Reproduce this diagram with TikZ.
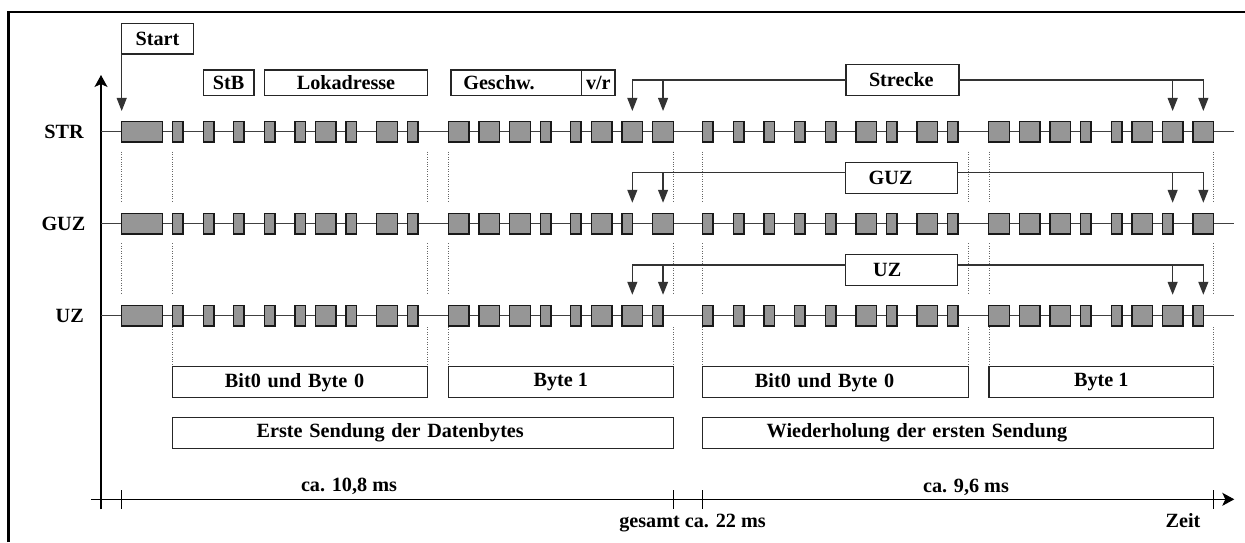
\documentclass[tikz,border=0pt]{standalone}
\usepackage{fontspec}
\setmainfont{Liberation Serif}
\usepackage{tikz}
\usetikzlibrary{arrows.meta}

\definecolor{pulsgrau}{RGB}{150,150,150}

\tikzset{
  puls/.style={draw=black!90, fill=pulsgrau, line width=0.85pt, inner sep=0pt, outer sep=0pt, minimum height=0.41cm, anchor=west},
  pulsk/.style={puls, minimum width=0.21cm},
  pulsl/.style={puls, minimum width=0.414cm},
  kasten/.style={draw=black!85, line width=0.7pt, inner sep=0pt, outer sep=0pt, anchor=north west},
  signal/.style={draw=black!75, line width=0.65pt},
  hilfslinie/.style={draw=black!60, densely dotted, line width=0.4pt},
  pfeil/.style={draw=black!80, line width=0.65pt, -{Triangle[width=0.2cm,length=0.26cm]}, shorten >=0.21cm},
  achse/.style={draw=black, line width=0.65pt, -{Stealth[width=0.26cm,length=0.24cm,inset=0.06cm]}}
}

\begin{document}
\begin{tikzpicture}[x=0.02cm, y=-0.02cm, font=\fontsize{11.5}{13}\selectfont\bfseries]
  \useasboundingbox (0,0) rectangle (1245,542);

  % Rahmen
  \draw[line width=1.4pt] (8.7,542) -- (8.7,12.2) -- (1245,12.2);

  % Achsen
  \draw[achse] (101,509.3) -- (101,75);
  \draw[achse] (91,499.3) -- (1234.3,499.3);
  \foreach \x in {121.7,673.3,702.7,1213.5}
    \draw[line width=0.65pt] (\x,490) -- (\x,509.3);

  % Hilfslinien
  \foreach \x in {121.7,172.7,427.7,448.3,673.3,702.7,968.3,989,1213.7}
    \draw[hilfslinie] (\x,151.7) -- (\x,201.7) (\x,243.3) -- (\x,293.3);
  \foreach \x in {172.7,427.7,448.3,673.3,702.7,968.3,989,1213.7}
    \draw[hilfslinie] (\x,327) -- (\x,366.7);

  % Signalleitungen
  \draw[signal] (101,131.7) -- (1234.3,131.7);
  \draw[signal] (101,223.5) -- (1234.3,223.5);
  \draw[signal] (101,315.5) -- (1234.3,315.5);

  \node[anchor=east] (lstr) at (90,131.7) {STR};
  \node[anchor=east] (lguz) at (91.5,223.5) {GUZ};
  \node[anchor=east] (luz) at (90,315.5) {UZ};

  % Impulse
  \node[puls, minimum width=0.82cm] (str0) at (121.7,131.7) {};
  \node[puls, minimum width=0.82cm] (guz0) at (121.7,223.5) {};
  \node[puls, minimum width=0.82cm] (uz0) at (121.7,315.5) {};

  \foreach \x/\b [count=\i] in {172.7/k,203.3/k,233.7/k,264.3/k,295/k,315.3/l,346/k,376.7/l,407.3/k,448.3/l,479/l,509.7/l,540.3/k,570.7/k,591.3/l,622/l,652.7/l,702.7/k,733.3/k,764/k,794.7/k,825.7/k,856/l,886.3/k,917/l,947.7/k,988.7/l,1019.3/l,1050/l,1080.7/k,1111.3/k,1132/l,1162.3/l,1193/l}
    \node[puls\b] (str\i) at (\x,131.7) {};
  \foreach \x/\b [count=\i] in {172.7/k,203.3/k,233.7/k,264.3/k,295/k,315.3/l,346/k,376.7/l,407.3/k,448.3/l,479/l,509.7/l,540.3/k,570.7/k,591.3/l,622/k,652.7/l,702.7/k,733.3/k,764/k,794.7/k,825.7/k,856/l,886.3/k,917/l,947.7/k,988.7/l,1019.3/l,1050/l,1080.7/k,1111.3/k,1132/l,1162.3/k,1193/l}
    \node[puls\b] (guz\i) at (\x,223.5) {};
  \foreach \x/\b [count=\i] in {172.7/k,203.3/k,233.7/k,264.3/k,295/k,315.3/l,346/k,376.7/l,407.3/k,448.3/l,479/l,509.7/l,540.3/k,570.7/k,591.3/l,622/l,652.7/k,702.7/k,733.3/k,764/k,794.7/k,825.7/k,856/l,886.3/k,917/l,947.7/k,988.7/l,1019.3/l,1050/l,1080.7/k,1111.3/k,1132/l,1162.3/l,1193/k}
    \node[puls\b] (uz\i) at (\x,315.5) {};

  % Beschriftung oben
  \node[kasten, minimum width=1.432cm, minimum height=0.614cm] (start) at (121.7,23.3) {Start};
  \node[kasten, minimum width=1.014cm, minimum height=0.514cm] (stb) at (203.3,70) {StB};
  \node[kasten, minimum width=3.268cm, minimum height=0.514cm] (lok) at (264.3,70) {Lokadresse};
  \node[kasten, minimum height=0.514cm, inner xsep=0.246cm, text width=2.122cm, align=left] (geschw) at (451,70) {Geschw.};
  \node[kasten, minimum width=0.666cm, minimum height=0.514cm] (vr) at (581.7,70) {v/r};

  \draw[pfeil] (start.south west) -- (str0.north west);

  % Strecke
  \node[kasten, minimum height=0.628cm, inner xsep=0.46cm, text width=1.34cm, align=left] (strecke) at (846,64.3) {Strecke};
  \draw[pfeil] (strecke.west) -| (str16.north);
  \draw[pfeil] (str17.north |- strecke.west) -- (str17.north);
  \draw[pfeil] (strecke.east) -| (str34.north);
  \draw[pfeil] (str33.north |- strecke.east) -- (str33.north);

  % GUZ
  \node[kasten, minimum height=0.612cm, inner xsep=0.46cm, text width=1.32cm, align=left] (guzbox) at (845.7,162.7) {GUZ};
  \coordinate (guzl) at ([yshift=0.106cm]guzbox.west);
  \coordinate (guzr) at ([yshift=0.106cm]guzbox.east);
  \draw[pfeil] (guzl) -| (str16.north |- guz16.north);
  \draw[pfeil] (str17.north |- guzl) -- (str17.north |- guz17.north);
  \draw[pfeil] (guzr) -| (str34.north |- guz34.north);
  \draw[pfeil] (str33.north |- guzr) -- (str33.north |- guz33.north);

  % UZ
  \node[kasten, minimum height=0.62cm, inner xsep=0.55cm, text width=1.14cm, align=left] (uzbox) at (845.7,254.3) {UZ};
  \coordinate (uzl) at ([yshift=0.096cm]uzbox.west);
  \coordinate (uzr) at ([yshift=0.096cm]uzbox.east);
  \draw[pfeil] (uzl) -| (str16.north |- uz16.north);
  \draw[pfeil] (str17.north |- uzl) -- (str17.north |- uz17.north);
  \draw[pfeil] (uzr) -| (str34.north |- uz34.north);
  \draw[pfeil] (str33.north |- uzr) -- (str33.north |- uz33.north);

  % Beschriftung unten
  \node[kasten, minimum height=0.62cm, inner xsep=1.046cm, text width=3.008cm, align=left] (bita) at (172.7,366.7) {Bit0 und Byte 0};
  \node[kasten, minimum width=4.5cm, minimum height=0.62cm] (bytea) at (448.3,366.7) {Byte 1};
  \node[kasten, minimum height=0.62cm, inner xsep=1.046cm, text width=3.22cm, align=left] (bitb) at (702.7,366.7) {Bit0 und Byte 0};
  \node[kasten, minimum width=4.494cm, minimum height=0.62cm] (byteb) at (989,366.7) {Byte 1};
  \node[kasten, minimum height=0.62cm, inner xsep=1.68cm, text width=6.652cm, align=left] (erste) at (172.7,417.7) {Erste Sendung der Datenbytes};
  \node[kasten, minimum height=0.62cm, inner xsep=1.28cm, text width=7.66cm, align=left] (wieder) at (702.7,417.7) {Wiederholung der ersten Sendung};

  % Zeiten
  \node[anchor=base] (t1) at (349,491.5) {ca. 10,8 ms};
  \node[anchor=base] (t2) at (966,492.5) {ca. 9,6 ms};
  \node[anchor=base] (tges) at (692.5,527.5) {gesamt ca. 22 ms};
  \node[anchor=base] (zeit) at (1183,527.5) {Zeit};
\end{tikzpicture}
\end{document}
